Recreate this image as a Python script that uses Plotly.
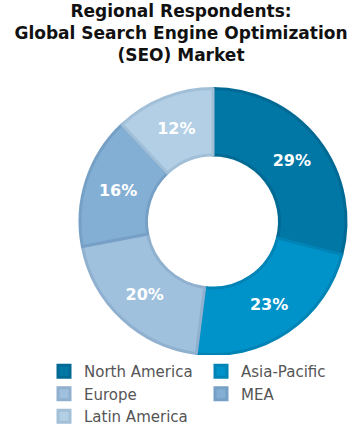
import plotly.graph_objects as go

regions = ["North America", "Asia-Pacific", "Europe", "MEA", "Latin America"]
shares = [29, 23, 20, 16, 12]
fill_colors = ["#0077A5", "#0093C9", "#A0C1DE", "#84AFD5", "#B3CFE6"]
edge_colors = ["#006A94", "#0084B6", "#8FB0CE", "#76A0C6", "#A2BFD8"]

W, H = 362, 434

fig = go.Figure(go.Pie(
    labels=regions,
    values=shares,
    sort=False,
    direction="clockwise",
    rotation=0,
    hole=0.5,
    marker=dict(colors=fill_colors, line=dict(color=edge_colors, width=3)),
    texttemplate="%{percent:.0%}",
    textposition="inside",
    insidetextorientation="horizontal",
    textfont=dict(family="DejaVu Sans", size=16, color="white", weight="bold"),
    domain=dict(x=[80 / W, 346 / W], y=[1 - 356 / H, 1 - 87 / H]),
    showlegend=True,
))

fig.update_layout(
    width=W, height=H,
    margin=dict(l=0, r=0, t=0, b=0, autoexpand=False),
    paper_bgcolor="white",
    title=dict(
        text="Regional Respondents:<br>Global Search Engine Optimization<br>(SEO) Market",
        x=0.5, xanchor="center", xref="container",
        y=1 - 17 / H, yanchor="top", yref="container",
        font=dict(family="DejaVu Sans", size=17, color="#111111", weight="bold"),
    ),
    legend=dict(
        orientation="h",
        x=44 / W, xanchor="left",
        y=1 - 355 / H, yanchor="top",
        entrywidth=112, entrywidthmode="pixels",
        font=dict(family="DejaVu Sans", size=15, color="#555555"),
        traceorder="normal",
    ),
)

fig.write_html("out.html", config={"displayModeBar": False},
               post_script="document.body.style.margin='0';")
